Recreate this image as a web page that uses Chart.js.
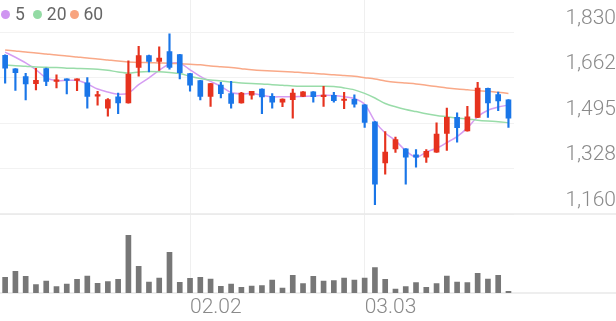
<!DOCTYPE html>
<html>
<head>
<meta charset="utf-8">
<script src="https://cdn.jsdelivr.net/npm/chart.js@4.4.1/dist/chart.umd.min.js"></script>
<style>
  html, body { margin: 0; padding: 0; background: #fff; }
  #wrap { position: relative; width: 616px; height: 321px; }
  #legend {
    position: absolute; left: 1px; top: 4px;
    display: flex; align-items: center;
    font-family: Roboto, sans-serif; font-size: 17.5px; color: #666;
  }
  #legend .item { display: flex; align-items: center; margin-right: 8px; }
  #legend .item:nth-child(2) { margin-right: 3px; }
  #legend i { display: inline-block; width: 9px; height: 9px; border-radius: 50%; margin-right: 5px; }
</style>
</head>
<body>
<div id="wrap">
  <canvas id="chart" width="616" height="321"></canvas>
  <div id="legend">
    <span class="item"><i style="background:#cf95f1"></i>5</span>
    <span class="item"><i style="background:#93dba4"></i>20</span>
    <span class="item"><i style="background:#f8a47f"></i>60</span>
  </div>
</div>
<script>
const dates = [
  '01.07','01.08','01.09','01.12','01.13','01.14','01.15','01.16','01.19','01.20',
  '01.21','01.22','01.23','01.26','01.27','01.28','01.29','01.30',
  '02.02','02.03','02.04','02.05','02.06','02.09','02.10','02.11','02.12','02.13',
  '02.19','02.20','02.23','02.24','02.25','02.26','02.27',
  '03.03','03.04','03.05','03.06','03.09','03.10','03.11','03.12','03.13',
  '03.16','03.17','03.18','03.19','03.20','03.23'
];
const opens  = [1744,1694,1666,1640,1695,1648,1657,1652,1643,1594,1550,1591,1569,1700,1743,1722,1758,1747,1677,1651,
                1593,1635,1603,1569,1597,1620,1593,1572,1581,1593,1610,1592,1597,1578,1582,1562,1499,1348,1400,1400,
                1378,1369,1388,1457,1516,1466,1516,1623,1600,1580];
const highs  = [1746,1695,1678,1696,1697,1672,1658,1658,1662,1612,1585,1605,1724,1777,1745,1775,1823,1748,1678,1652,
                1641,1645,1648,1608,1612,1621,1603,1584,1620,1611,1611,1630,1608,1608,1599,1563,1500,1463,1443,1401,
                1397,1397,1496,1550,1532,1556,1645,1624,1609,1581];
const lows   = [1642,1615,1580,1617,1632,1624,1602,1614,1550,1561,1520,1529,1568,1667,1683,1689,1693,1657,1612,1580,
                1556,1587,1550,1568,1583,1529,1550,1555,1513,1592,1572,1556,1572,1548,1553,1479,1194,1307,1387,1270,
                1332,1350,1387,1394,1424,1465,1515,1516,1540,1479];
const closes = [1697,1680,1639,1652,1648,1653,1652,1657,1593,1599,1581,1569,1675,1743,1722,1734,1700,1680,1634,1593,
                1640,1603,1567,1605,1612,1591,1572,1583,1605,1610,1592,1598,1577,1582,1564,1497,1270,1388,1434,1369,
                1369,1391,1454,1516,1478,1518,1624,1569,1576,1513];
const volumes = [47,65,50,25,36,19,27,41,51,29,34,41,173,80,33,45,122,32,44,47,
                 42,20,27,17,21,22,39,15,53,28,50,36,37,45,39,45,76,41,12,19,
                 31,17,28,51,33,31,59,42,53,5].map(v => v * 1000);
const ma5  = [1756,1737,1716,1691,1661,1651,1652,1652,1639,1620,1609,1601,1605,1636,1661,1689,1712,1715,1691,1667,
              1648,1630,1607,1602,1604,1597,1591,1592,1592,1593,1594,1597,1596,1592,1585,1564,1501,1458,1430,1393,
              1369,1388,1402,1423,1445,1477,1518,1542,1554,1561];
const ma20 = [1709,1706,1704,1701,1700,1699,1697,1696,1695,1693,1689,1683,1679,1683,1685,1684,1681,1677,1667,1659,
              1653,1650,1646,1642,1640,1639,1636,1634,1631,1630,1630,1630,1629,1624,1617,1604,1587,1567,1555,1545,
              1537,1529,1523,1518,1513,1510,1505,1502,1500,1496];
const ma60 = [1764,1760,1756,1753,1749,1745,1742,1738,1734,1731,1727,1723,1720,1718,1717,1716,1715,1713,1711,1709,
              1705,1702,1699,1695,1691,1688,1686,1685,1683,1680,1678,1675,1673,1670,1667,1662,1657,1650,1645,1642,
              1639,1634,1629,1624,1620,1617,1614,1612,1608,1604];
const priceTicks = [1160, 1327.5, 1495, 1662.5, 1830];
const priceTickLabels = ['1,160', '1,328', '1,495', '1,662', '1,830'];

const UP = '#e6321e';
const DOWN = '#1a76e8';
const candleColor = ctx => closes[ctx.dataIndex] >= opens[ctx.dataIndex] ? UP : DOWN;
const axisFont = { family: 'Roboto', size: 21, weight: '300' };

const panelLines = {
  id: 'panelLines',
  beforeDatasetsDraw(chart) {
    const { ctx, chartArea, scales } = chart;
    const yBase = scales.y.getPixelForValue(priceTicks[0]);
    ctx.save();
    ctx.strokeStyle = '#e8e8e8';
    ctx.lineWidth = 1.5;
    [yBase, chartArea.bottom].forEach(y => {
      ctx.beginPath();
      ctx.moveTo(0, y);
      ctx.lineTo(chart.width, y);
      ctx.stroke();
    });
    ctx.restore();
  }
};

const lineSet = (data, color) => ({
  type: 'line', data, yAxisID: 'y', order: 3,
  borderColor: color, borderWidth: 1.5, pointRadius: 0, tension: 0.3, fill: false
});

new Chart(document.getElementById('chart'), {
  type: 'bar',
  data: {
    labels: dates,
    datasets: [
      lineSet(ma60, '#f9a988'),
      lineSet(ma20, '#99dca9'),
      lineSet(ma5, '#d59df2'),
      {
        data: volumes, yAxisID: 'yv', order: 2, grouped: false,
        barThickness: 5, backgroundColor: '#777777'
      },
      {
        data: lows.map((l, i) => [l, highs[i]]), yAxisID: 'y', order: 1, grouped: false,
        barThickness: 1.5, backgroundColor: candleColor
      },
      {
        data: opens.map((o, i) => [o, closes[i]]), yAxisID: 'y', order: 0, grouped: false,
        barThickness: 5, minBarLength: 1.5, backgroundColor: candleColor
      }
    ]
  },
  options: {
    responsive: false,
    animation: false,
    devicePixelRatio: 1,
    layout: { padding: 0 },
    plugins: { legend: { display: false }, tooltip: { enabled: false } },
    scales: {
      x: {
        type: 'category',
        offset: true,
        grid: { offset: false, drawTicks: false, color: '#efefef' },
        border: { display: false },
        ticks: { autoSkip: false, maxRotation: 0, align: 'start', padding: 2, color: '#8a8a8a', font: axisFont },
        afterBuildTicks(scale) {
          scale.ticks = scale.ticks.filter(t => t.value > 0 && dates[t.value].slice(0, 2) !== dates[t.value - 1].slice(0, 2));
        },
        afterFit(scale) {
          scale.height = 28;
          scale.paddingLeft = 0;
          scale.paddingRight = 0;
        }
      },
      y: {
        type: 'linear',
        position: 'right',
        min: 869.2,
        max: 1947.8,
        grid: { drawTicks: false, color: '#f2f2f2' },
        border: { display: false },
        ticks: {
          crossAlign: 'far', padding: 47, labelOffset: -13.5, color: '#8a8a8a', font: axisFont,
          callback: (v, i) => priceTickLabels[i]
        },
        afterBuildTicks(scale) {
          scale.ticks = priceTicks.map(v => ({ value: v }));
        },
        afterFit(scale) {
          scale.width = 102.4;
          scale.paddingTop = 0;
          scale.paddingBottom = 0;
        }
      },
      yv: { type: 'linear', display: false, min: 0, max: 880000 }
    }
  },
  plugins: [panelLines]
});
</script>
</body>
</html>
